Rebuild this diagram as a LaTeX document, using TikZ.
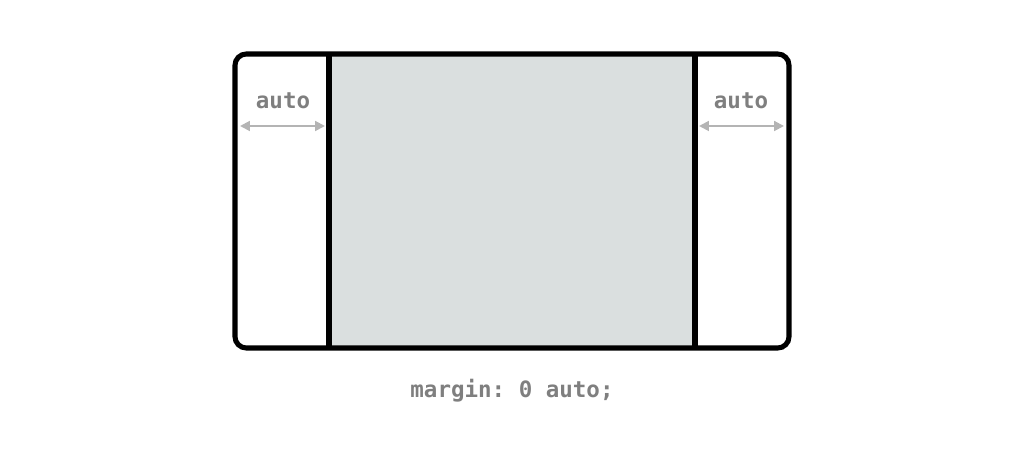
\documentclass[tikz,border=0pt]{standalone}
\usepackage{fontspec}
\setmonofont{DejaVu Sans Mono}
\usetikzlibrary{arrows.meta}
\definecolor{boxgray}{HTML}{DADFDF}
\definecolor{arrowgray}{HTML}{B4B4B4}
\definecolor{textgray}{HTML}{7F7F7F}
\tikzset{
	frame/.style={draw=black, line width=3.6pt, rounded corners=8pt},
	gap/.style={arrowgray, line width=1.4pt, {Triangle[length=7pt,width=7pt]}-{Triangle[length=7pt,width=7pt]}},
	code/.style={text=textgray, font=\ttfamily\bfseries\fontsize{16}{18}\selectfont, inner sep=0pt}
}
\begin{document}
\begin{tikzpicture}[x=0.025cm,y=-0.025cm]
	\useasboundingbox (0,0) rectangle (1024,457);
	\fill[boxgray] (329,54) rectangle (695,348);
	\draw[frame] (235,54) rectangle (789,348);
	\draw[line width=3.6pt] (329,54) -- (329,348);
	\draw[line width=3.6pt] (695,54) -- (695,348);
	% gaps
	\coordinate (l1) at (240,126);
	\coordinate (l2) at (325,126);
	\coordinate (r1) at (699,126);
	\coordinate (r2) at (784,126);
	\draw[gap] (l1) -- (l2);
	\draw[gap] (r1) -- (r2);
	\node[code] (lauto) at (283,101) {auto};
	\node[code] (rauto) at (741,101) {auto};
	\node[code] (rule) at (512,391) {margin: 0 auto;};
\end{tikzpicture}
\end{document}
